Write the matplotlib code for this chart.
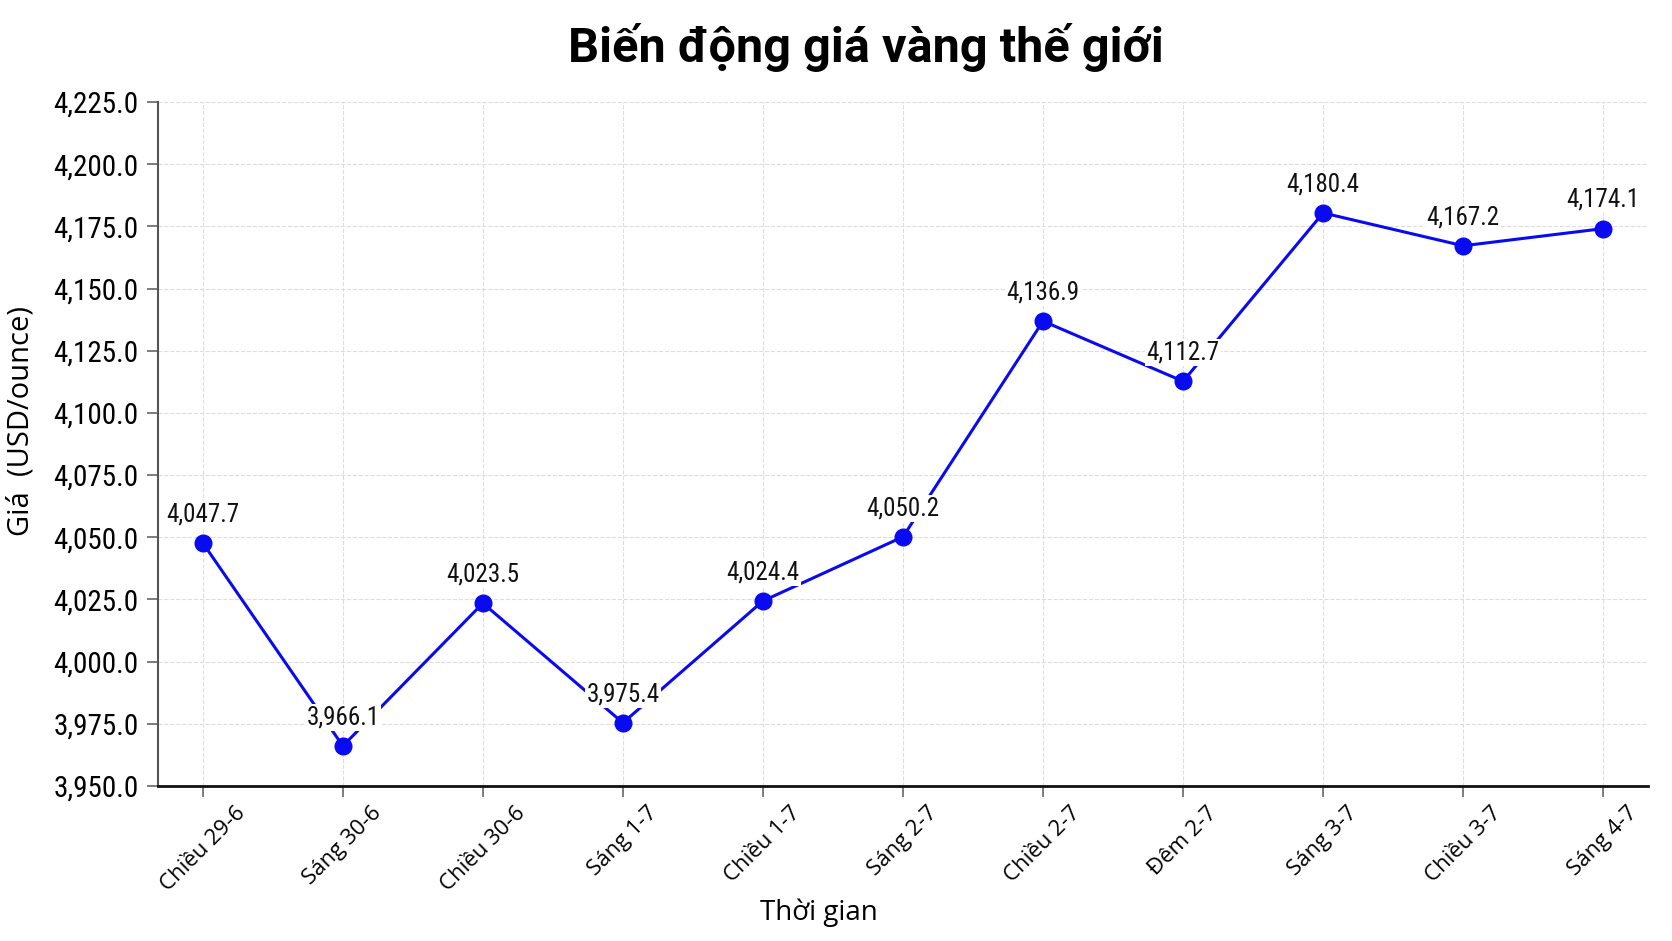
import matplotlib.pyplot as plt
from matplotlib.ticker import FuncFormatter

# Dữ liệu giá vàng thế giới
thoi_gian = ['Chiều 29-6', 'Sáng 30-6', 'Chiều 30-6', 'Sáng 1-7', 'Chiều 1-7',
             'Sáng 2-7', 'Chiều 2-7', 'Đêm 2-7', 'Sáng 3-7', 'Chiều 3-7', 'Sáng 4-7']
gia = [4047.7, 3966.1, 4023.5, 3975.4, 4024.4, 4050.2, 4136.9, 4112.7, 4180.4, 4167.2, 4174.1]
y_ticks = [3950, 3975, 4000, 4025, 4050, 4075, 4100, 4125, 4150, 4175, 4200, 4225]

narrow = ['Roboto Condensed', 'Liberation Sans Narrow', 'Roboto', 'DejaVu Sans']
sans = ['Open Sans', 'DejaVu Sans']

fig = plt.figure(figsize=(16.72, 9.41), dpi=100)
ax = fig.add_axes([158 / 1672, 1 - 786 / 941, (1648 - 158) / 1672, (786 - 102) / 941])

x = list(range(len(gia)))
ax.plot(x, gia, color='#0a0af0', linewidth=2.2, marker='o', markersize=12, zorder=3)

# Nhãn giá trên mỗi điểm
for xi, yi in zip(x, gia):
    ax.annotate(f'{yi:,.1f}', (xi, yi), textcoords='offset points', xytext=(0, 12),
                ha='center', va='bottom', fontsize=18, family=narrow, color='#111111',
                zorder=4, bbox=dict(facecolor='white', edgecolor='none', pad=1))

ax.set_xlim(-0.32, len(gia) - 1 + 0.32)
ax.set_ylim(3950, 4225)
ax.set_yticks(y_ticks)
ax.yaxis.set_major_formatter(FuncFormatter(lambda v, p: f'{v:,.1f}'))
ax.set_xticks(x)
ax.set_xticklabels(thoi_gian, rotation=45, ha='center', fontsize=16, family=sans)
for lb in ax.get_yticklabels():
    lb.set_fontsize(21)
    lb.set_family(narrow)

ax.grid(True, linestyle='--', color='#dddddd', linewidth=0.8)
ax.set_axisbelow(True)
ax.spines['top'].set_visible(False)
ax.spines['right'].set_visible(False)
ax.spines['left'].set_color('#555555')
ax.spines['left'].set_linewidth(1.5)
ax.spines['bottom'].set_color('#111111')
ax.spines['bottom'].set_linewidth(2)
ax.tick_params(axis='both', length=8, width=1.2, color='#666666')
ax.tick_params(axis='y', pad=6)
ax.tick_params(axis='x', pad=4)

ax.set_xlabel('Thời gian', fontsize=20, family=sans)
ax.xaxis.set_label_coords((819 - 158) / (1648 - 158), -0.165)
fig.text(21 / 1672, 1 - 421 / 941, 'Giá  (USD/ounce)', rotation=90, ha='center', va='center',
         fontsize=21, family=sans)
fig.text(866 / 1672, 1 - 48 / 941, 'Biến động giá vàng thế giới', ha='center', va='center',
         fontsize=35, fontweight='bold', family=['Roboto', 'DejaVu Sans'])

fig.savefig('out.png', dpi=100, facecolor='white')
